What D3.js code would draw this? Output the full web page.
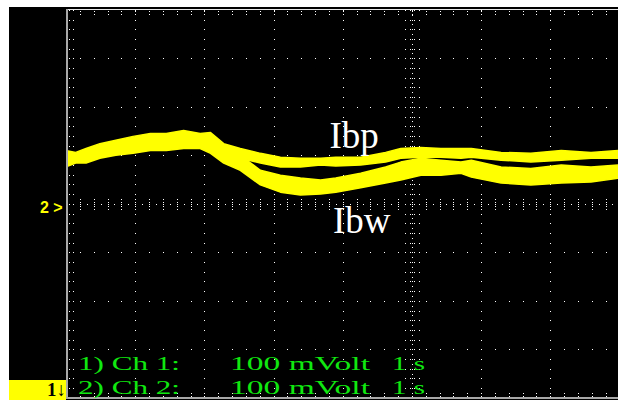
<!DOCTYPE html>
<html><head><meta charset="utf-8">
<script src="https://cdn.jsdelivr.net/npm/d3@7"></script>
<style>html,body{margin:0;padding:0;background:#fff;}svg{display:block;}</style>
</head><body>
<svg id="c" width="618" height="400"></svg>
<script>
// time in seconds (1 s/div), values in mV (100 mV/div) relative to Ch2 reference
const timeS   = [0.00,0.14,0.29,0.49,0.72,0.97,1.22,1.45,1.70,1.94,2.09,2.28,2.52,2.81,3.10,3.39,3.68,3.90,4.26,4.62,4.84,5.13,5.42,5.71,5.86,6.29,6.72,7.16,7.59,8.00];
const ibpHigh = [110,106,114,124,131,139,145,145,151,145,147,124,114,104,96,94,94,96,96,106,114,116,114,114,114,106,104,110,106,110];
const ibpLow  = [90,90,96,106,112,118,124,124,131,126,124,104,94,84,76,76,80,78,80,86,94,96,96,94,96,90,86,90,94,94];
const ibwHigh = [100,102,104,114,120,124,131,131,135,135,129,110,100,69,59,53,49,53,63,76,86,94,90,86,90,76,73,80,76,80];
const ibwLow  = [76,84,84,94,100,104,110,110,114,114,104,84,69,39,24,18,20,24,33,43,49,59,59,63,55,43,39,43,45,53];
const labelValues = [{name:"Ibp", t:3.81, v:115}, {name:"Ibw", t:3.86, v:-60}];
const legendLines = [["1) Ch 1:", "100 mVolt", "1 s"], ["2) Ch 2:", "100 mVolt", "1 s"]];

const svg = d3.select("#c");
const X0 = 66, DIVX = 69.17, Y0 = 9.8, DIVY = 48.5;
const x = d3.scaleLinear().domain([0, 10]).range([X0, X0 + 10 * DIVX]);
const y = d3.scaleLinear().domain([-400, 400]).range([Y0 + 8 * DIVY, Y0]);

// background
svg.append("rect").attr("x", 9).attr("y", 7).attr("width", 609).attr("height", 393).attr("fill", "#000");

const defs = svg.append("defs");
defs.append("clipPath").attr("id", "scr").append("rect")
  .attr("x", 67).attr("y", 10).attr("width", 551).attr("height", 387);

const g = svg.append("g").attr("clip-path", "url(#scr)");
const dotsG = g.append("g").attr("fill", "#fff");
const dots = [];
const minorX = d3.range(0, 10.001, 0.2);
const minorY = d3.range(-400, 400.001, 20);
const majorX = d3.range(1, 10, 1);
const majorY = d3.range(-300, 301, 100);
majorY.forEach(v => minorX.forEach(t => dots.push([x(t), y(v)])));
majorX.forEach(t => minorY.forEach(v => dots.push([x(t), y(v)])));
d3.range(0, 10.001, 0.1).forEach(t => dots.push([x(t), y(0)]));
minorX.forEach(t => [-5, -2, 2, 5].forEach(o => dots.push([x(t), y(0) + o])));
d3.range(-400, 400.001, 10).forEach(v => dots.push([x(5), y(v)]));
minorY.forEach(v => [-7, -2, 2, 7].forEach(o => dots.push([x(5) + o, y(v)])));
minorY.forEach(v => { dots.push([69, y(v)]); dots.push([73, y(v)]); });
minorX.forEach(t => { dots.push([x(t), 11]); dots.push([x(t), 14]); dots.push([x(t), 393]); dots.push([x(t), 396]); });
dotsG.selectAll("rect").data(dots).join("rect")
  .attr("x", d => Math.round(d[0])).attr("y", d => Math.round(d[1]))
  .attr("width", 1).attr("height", 1);

// traces
const rows = timeS.map((t, i) => ({t, ph: ibpHigh[i], pl: ibpLow[i], wh: ibwHigh[i], wl: ibwLow[i]}));
const areaW = d3.area().x(d => x(d.t)).y0(d => y(d.wl)).y1(d => y(d.wh));
const areaP = d3.area().x(d => x(d.t)).y0(d => y(d.pl)).y1(d => y(d.ph));
g.append("path").datum(rows).attr("d", areaW).attr("fill", "#ffff00")
  .attr("stroke", "#ffff00").attr("stroke-width", 1.5).attr("stroke-linejoin", "round");
g.append("path").datum(rows).attr("d", areaP).attr("fill", "#ffff00")
  .attr("stroke", "#ffff00").attr("stroke-width", 1.5).attr("stroke-linejoin", "round");

// labels
labelValues.forEach(l => {
  svg.append("text").attr("x", x(l.t)).attr("y", y(l.v))
    .attr("font-family", "Liberation Serif, Times New Roman, serif").attr("font-size", 37)
    .attr("fill", "#fff").text(l.name);
});

// frame lines
svg.append("rect").attr("x", 66).attr("y", 9).attr("width", 552).attr("height", 1).attr("fill", "#e8e8e8");
svg.append("rect").attr("x", 66).attr("y", 9).attr("width", 2).attr("height", 389).attr("fill", "#a8a8a8");
svg.append("rect").attr("x", 66).attr("y", 397).attr("width", 552).attr("height", 2).attr("fill", "#a8a8a8");

// channel 2 marker
svg.append("text").attr("x", 40).attr("y", 213)
  .attr("font-family", "Liberation Sans, Arial, sans-serif").attr("font-weight", "bold").attr("font-size", 16)
  .attr("fill", "#ffff00").text("2 >");

// channel 1 marker box
svg.append("rect").attr("x", 9).attr("y", 380).attr("width", 57).attr("height", 20).attr("fill", "#ffff00");
svg.append("text").attr("x", 66).attr("y", 396).attr("text-anchor", "end")
  .attr("font-family", "Liberation Serif, Times New Roman, serif").attr("font-size", 19).attr("font-weight", "bold")
  .attr("fill", "#000").text("1\u2193");

// legend text
const segX = [[78, 102], [230, 140], [392, 33]];
legendLines.forEach((line, li) => {
  line.forEach((s, si) => {
    svg.append("text").attr("x", segX[si][0]).attr("y", 370 + li * 24)
      .attr("font-family", "Liberation Serif, Times New Roman, serif").attr("font-size", 19)
      .attr("textLength", segX[si][1]).attr("lengthAdjust", "spacingAndGlyphs")
      .attr("fill", "#10e810").text(s);
  });
});
</script>
</body></html>
